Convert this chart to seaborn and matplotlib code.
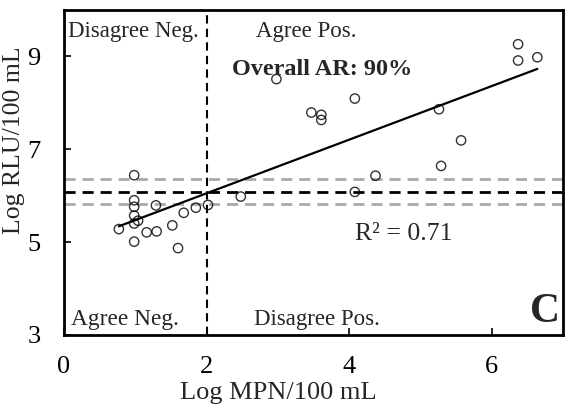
import numpy as np
import pandas as pd
import matplotlib
matplotlib.use("Agg")
import matplotlib.pyplot as plt
import seaborn as sns

# Data
log_mpn = [6.37, 6.37, 6.64, 2.98, 4.08, 3.47, 3.61, 3.61, 5.26, 5.57, 5.29, 4.37, 4.08,
           0.985, 0.985, 0.985, 1.29, 0.985, 1.04, 0.985, 0.77, 1.16, 1.30, 1.52, 1.68,
           1.85, 2.02, 0.985, 1.60, 2.48]
log_rlu = [9.26, 8.91, 8.98, 8.51, 8.09, 7.79, 7.74, 7.63, 7.86, 7.19, 6.64, 6.43, 6.08,
           6.44, 5.90, 5.76, 5.79, 5.57, 5.46, 5.40, 5.28, 5.21, 5.23, 5.36, 5.63,
           5.74, 5.80, 5.01, 4.87, 5.98]
mpn_threshold = 2.0
rlu_threshold = 6.07
rlu_band = [5.81, 6.36]
x_ticks = [0, 2, 4, 6]
y_ticks = [3, 5, 7, 9]

df = pd.DataFrame({"mpn": log_mpn, "rlu": log_rlu})

sns.set_theme(style="white")
plt.rcParams['font.family'] = ['Liberation Serif', 'DejaVu Serif']
plt.rcParams['mathtext.fontset'] = 'stix'

fig = plt.figure(figsize=(5.71, 4.12), dpi=100)
ax = fig.add_axes([0.112, 0.187, 0.874, 0.789])

for yb in rlu_band:
    ax.axhline(yb, color="#aaaaaa", lw=2, ls=(0, (4, 2.5)), zorder=1)
ax.axhline(rlu_threshold, color="black", lw=2, ls=(0, (4, 2.5)), zorder=1)
ax.axvline(mpn_threshold, color="black", lw=1.5, ls=(0, (4, 2.5)), zorder=1)

sns.regplot(data=df, x="mpn", y="rlu", ax=ax, ci=None,
            scatter_kws=dict(s=45, facecolors="none", edgecolors="black", linewidths=1.0, zorder=3),
            line_kws=dict(color="black", lw=1.6, zorder=2))

ax.set_xlim(0, 7)
ax.set_ylim(3, 10)
ax.set_xticks(x_ticks)
ax.set_yticks(y_ticks)
ax.tick_params(direction="in", length=5, width=1.2, labelsize=19,
               bottom=True, left=True, colors="black")
ax.tick_params(axis="x", pad=15)
ax.tick_params(axis="y", pad=17)
for s in ax.spines.values():
    s.set_color("black")
    s.set_linewidth(2)
ax.set_xlabel("Log MPN/100 mL", fontsize=19)
ax.set_ylabel("Log RLU/100 mL", fontsize=18.5)
ax.xaxis.set_label_coords(0.43, -0.144)
ax.yaxis.set_label_coords(-0.078, 0.598)

ax.text(0.056, 9.53, "Disagree Neg.", fontsize=16.5, ha="left", va="center")
ax.text(2.69, 9.53, "Agree Pos.", fontsize=16.5, ha="left", va="center")
ax.text(2.36, 8.72, "Overall AR: 90%", fontsize=17.5, fontweight="bold", ha="left", va="center")
ax.text(4.08, 5.17, "R² = 0.71", fontsize=18.5, ha="left", va="center")
ax.text(0.1, 3.33, "Agree Neg.", fontsize=16.8, ha="left", va="center")
ax.text(2.66, 3.33, "Disagree Pos.", fontsize=16.5, ha="left", va="center")
ax.text(6.96, 3.5, "C", fontsize=30, fontweight="bold", ha="right", va="center")

fig.savefig("out.png", dpi=100)
